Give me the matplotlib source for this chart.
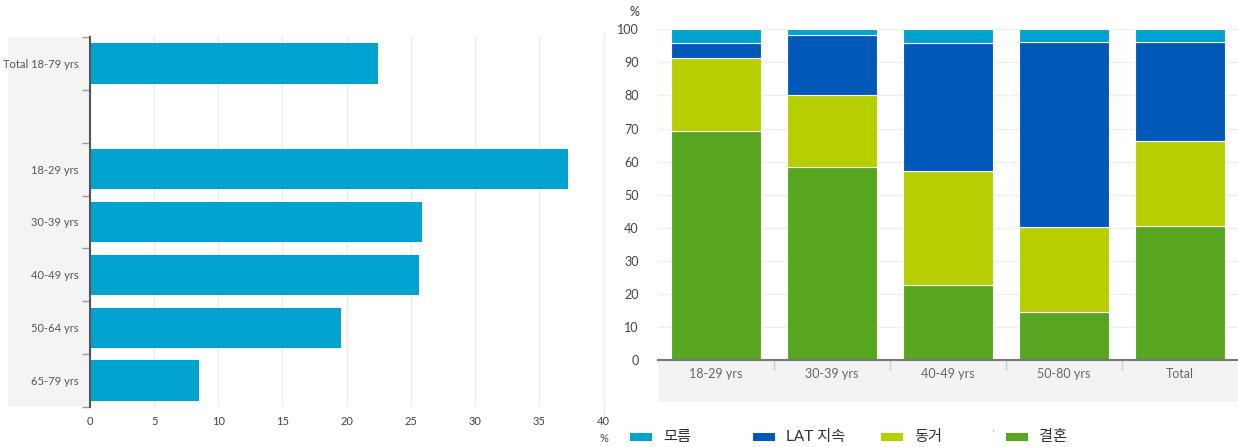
"""Two-panel chart: share by age (left) and relationship type by age (right)."""

import matplotlib

matplotlib.use("Agg")
import matplotlib.pyplot as plt
from matplotlib.lines import Line2D
from matplotlib.patches import Rectangle

# left panel data
left_labels = ["Total 18-79 yrs", "18-29 yrs", "30-39 yrs", "40-49 yrs", "50-64 yrs", "65-79 yrs"]
left_slots = [0, 2, 3, 4, 5, 6]
left_values = [22.45, 37.3, 25.9, 25.65, 19.6, 8.5]

# right panel data
right_categories = ["18-29 yrs", "30-39 yrs", "40-49 yrs", "50-80 yrs", "Total"]
married = [69.3, 58.4, 22.8, 14.4, 40.4]
cohabiting = [22.1, 21.7, 34.5, 25.7, 25.9]
lat = [4.4, 18.3, 38.5, 56.1, 29.9]
unknown = [4.2, 1.6, 4.2, 3.8, 3.8]

series_names = ["모름", "LAT 지속", "동거", "결혼"]
series_colors = ["#00a2d0", "#0059b9", "#b5cf00", "#58a61f"]

FONT = ["Lato", "Noto Sans CJK KR", "DejaVu Sans"]
plt.rcParams["font.family"] = FONT

W, H = 1238, 447
fig = plt.figure(figsize=(W / 100, H / 100), dpi=100)


def fx(px):
    return px / W


def fy(py):
    return 1 - py / H


# grey band behind the left labels
fig.patches.append(Rectangle((fx(8), fy(407)), fx(90) - fx(8), fy(37) - fy(407),
                             transform=fig.transFigure, facecolor="#f4f4f4",
                             edgecolor="none", zorder=-1))
# grey band under the right x axis
fig.patches.append(Rectangle((fx(658), fy(402)), fx(1238) - fx(658), fy(360) - fy(402),
                             transform=fig.transFigure, facecolor="#f3f3f3",
                             edgecolor="none", zorder=-1))
# faint separator line
fig.lines.append(Line2D([fx(604), fx(604)], [fy(32), fy(424)], transform=fig.transFigure,
                        color="#ececec", lw=1, zorder=-1))

# ---- left panel
ax1 = fig.add_axes([fx(90), fy(407), fx(603) - fx(90), fy(37) - fy(407)])
ax1.set_zorder(2)
ax1.patch.set_alpha(0)
ax1.barh(left_slots, left_values, height=0.76, color="#00a2d0", zorder=2)
ax1.set_xlim(0, 40)
ax1.set_ylim(6.5, -0.5)
ax1.set_xticks(range(0, 45, 5))
ax1.set_yticks(left_slots)
ax1.set_yticklabels(left_labels)
ax1.set_yticks([i - 0.5 for i in range(8)], minor=True)
ax1.tick_params(axis="y", which="major", length=0, pad=8.5, labelsize=8, labelcolor="#555555")
ax1.tick_params(axis="y", which="minor", length=6, width=1, color="#999999")
ax1.tick_params(axis="x", length=0, pad=6.5, labelsize=8, labelcolor="#444444")
ax1.grid(axis="x", color="#ebebeb", lw=1, zorder=0)
for side in ["top", "right", "bottom"]:
    ax1.spines[side].set_visible(False)
ax1.spines["left"].set_color("#555555")
ax1.spines["left"].set_linewidth(1.5)
fig.text(fx(604), fy(438), "%", ha="center", va="center", fontsize=8, color="#444444")

# ---- right panel
ax2 = fig.add_axes([fx(658), fy(360), fx(1238) - fx(658), fy(29.3) - fy(360)])
ax2.set_zorder(2)
ax2.patch.set_alpha(0)
x = range(len(right_categories))
bottom = [0.0] * len(right_categories)
stack = [married, cohabiting, lat, unknown]
stack_colors = series_colors[::-1]
for vals, col in zip(stack, stack_colors):
    ax2.bar(x, vals, bottom=bottom, width=0.776, color=col, edgecolor="white",
            linewidth=0.8, zorder=2)
    bottom = [b + v for b, v in zip(bottom, vals)]
ax2.set_xlim(-0.5, 4.5)
ax2.set_ylim(0, 100)
ax2.set_yticks(range(0, 101, 10))
ax2.set_xticks(list(x))
ax2.set_xticklabels(right_categories)
ax2.set_xticks([i + 0.5 for i in range(4)], minor=True)
ax2.tick_params(axis="x", which="major", length=0, pad=5.5, labelsize=9, labelcolor="#666666")
ax2.tick_params(axis="x", which="minor", length=7, width=1, color="#cccccc")
ax2.tick_params(axis="y", length=0, pad=14, labelsize=9, labelcolor="#444444")
ax2.grid(axis="y", color="#eeeeee", lw=1, zorder=0)
for side in ["top", "right", "left"]:
    ax2.spines[side].set_visible(False)
ax2.spines["bottom"].set_color("#777777")
ax2.spines["bottom"].set_linewidth(1.5)
fig.text(fx(634), fy(12), "%", ha="center", va="center", fontsize=9, color="#333333")

# ---- legend
legend_x = [630, 753, 881, 1006]
for name, col, lx in zip(series_names, series_colors, legend_x):
    fig.patches.append(Rectangle((fx(lx), fy(441)), fx(22), 8 / H,
                                 transform=fig.transFigure, facecolor=col,
                                 edgecolor="none"))
    fig.text(fx(lx + 33), fy(437), name, ha="left", va="center", fontsize=11,
             color="#333333")
fig.text(fx(993), fy(434), "'", ha="center", va="center", fontsize=6, color="#666666")

fig.savefig("out.png", dpi=100)
